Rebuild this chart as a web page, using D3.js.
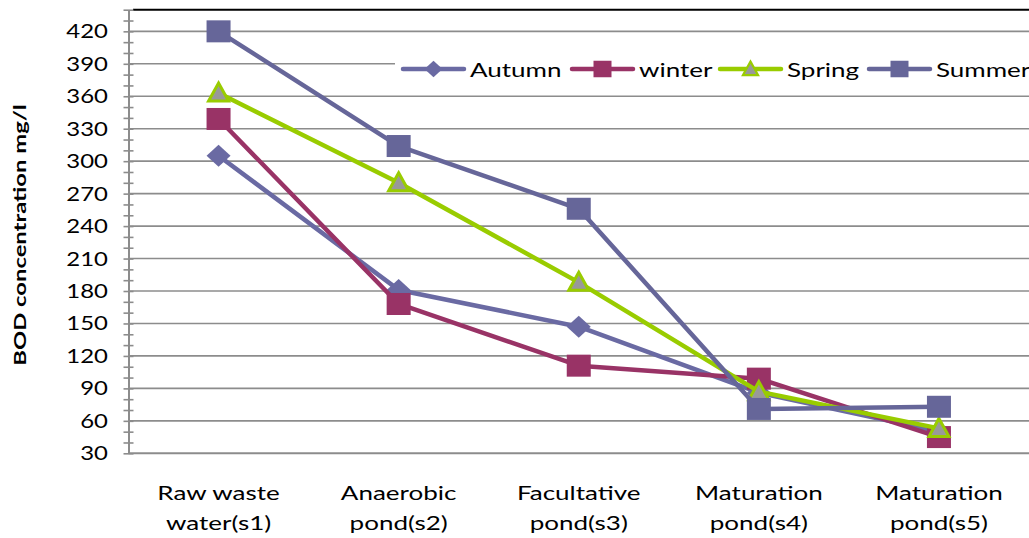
<!DOCTYPE html>
<html>
<head>
<meta charset="utf-8">
<script src="https://cdn.jsdelivr.net/npm/d3@7"></script>
<style>
  html, body { margin: 0; padding: 0; background: #fff; }
  svg { display: block; }
  text { font-family: Lato, "Open Sans", sans-serif; fill: #000; }
</style>
</head>
<body>
<svg id="chart" width="1029" height="538"></svg>
<script>
// Sampling stations along the pond system
const categories = [
  "Raw waste|water(s1)",
  "Anaerobic|pond(s2)",
  "Facultative|pond(s3)",
  "Maturation|pond(s4)",
  "Maturation|pond(s5)"
];

// BOD concentration (mg/l) per season
const autumn = [305, 181, 147, 86, 50];
const winter = [339, 168, 111, 99, 45];
const spring = [363, 280, 188, 87, 53];
const summer = [420, 314, 256, 71, 73];

const seriesNames = ["Autumn", "winter", "Spring", "Summer"];
const yTicks = [30, 60, 90, 120, 150, 180, 210, 240, 270, 300, 330, 360, 390, 420];
const yMinorStep = 10;
const yDomain = [30, 440];

const series = [
  { name: seriesNames[0], values: autumn, stroke: "#6a6aa3", fill: "#6a6aa3", shape: "diamond" },
  { name: seriesNames[1], values: winter, stroke: "#993366", fill: "#993366", shape: "square" },
  { name: seriesNames[2], values: spring, stroke: "#99cc00", fill: "#999999", shape: "triangle" },
  { name: seriesNames[3], values: summer, stroke: "#666699", fill: "#666699", shape: "square" }
];

const W = 1029, H = 538;
const plot = { left: 128.5, right: 1029, top: 9.7, bottom: 453.3 };
const textStretch = 1.37;
const tickStretch = 1.26;

const svg = d3.select("#chart");

const x = d3.scalePoint().domain(categories).range([plot.left, plot.right]).padding(0.5);
const y = d3.scaleLinear().domain(yDomain).range([plot.bottom, plot.top]);

// Horizontal gridlines at each major tick
svg.append("g").selectAll("line")
  .data(yTicks.filter(d => d > yDomain[0]))
  .join("line")
  .attr("x1", plot.left).attr("x2", plot.right)
  .attr("y1", d => y(d)).attr("y2", d => y(d))
  .attr("stroke", "#8c8c8c").attr("stroke-width", 1.6);

// Top border of the plot area
svg.append("line")
  .attr("x1", 133).attr("x2", W)
  .attr("y1", plot.top).attr("y2", plot.top)
  .attr("stroke", "#000").attr("stroke-width", 2);

// Y axis with major and minor tick marks
const yAxis = d3.axisLeft(y)
  .tickValues(d3.range(yDomain[0], yDomain[1] + 1, yMinorStep))
  .tickSize(0)
  .tickFormat("");
const gy = svg.append("g").attr("transform", `translate(${plot.left},0)`).call(yAxis);
gy.select(".domain").attr("stroke", "#8c8c8c").attr("stroke-width", 2);
gy.selectAll(".tick line").remove();
gy.selectAll(".tick").append("line")
  .attr("x1", -5).attr("x2", 5)
  .attr("stroke", "#8c8c8c").attr("stroke-width", 1.6);

// Y tick labels
svg.append("g").selectAll("text")
  .data(yTicks)
  .join("text")
  .attr("transform", d => `translate(108,${y(d) + 7}) scale(${tickStretch},1)`)
  .attr("text-anchor", "end")
  .attr("font-size", 19)
  .text(d => d);

// X axis line
const xAxis = d3.axisBottom(x).tickSize(0).tickFormat("");
const gx = svg.append("g").attr("transform", `translate(0,${plot.bottom})`).call(xAxis);
gx.select(".domain").attr("stroke", "#8c8c8c").attr("stroke-width", 2)
  .attr("d", `M${plot.left},0H${plot.right}`);

// X category labels (two lines each)
const xl = svg.append("g").selectAll("g")
  .data(categories)
  .join("g");
xl.each(function (d) {
  const lines = d.split("|");
  const g = d3.select(this);
  lines.forEach((ln, i) => {
    g.append("text")
      .attr("transform", `translate(${x(d)},${500 + i * 29.5}) scale(${textStretch},1)`)
      .attr("text-anchor", "middle")
      .attr("font-size", 19)
      .text(ln);
  });
});

// Y axis title
svg.append("text")
  .attr("transform", `translate(26,235) rotate(-90) scale(1.36,1)`)
  .attr("text-anchor", "middle")
  .attr("font-size", 17.5)
  .attr("font-weight", "bold")
  .text("BOD concentration mg/l");

// Marker drawing
function drawMarker(sel, shape, fill, stroke) {
  if (shape === "square") {
    sel.append("rect").attr("x", -12).attr("y", -11).attr("width", 24).attr("height", 22)
      .attr("fill", fill);
  } else if (shape === "diamond") {
    sel.append("path").attr("d", "M0,-11L12,0L0,11L-12,0Z").attr("fill", fill);
  } else if (shape === "triangle") {
    sel.append("path").attr("d", "M0,-10L10,8L-10,8Z")
      .attr("fill", fill).attr("stroke", stroke).attr("stroke-width", 3)
      .attr("stroke-linejoin", "miter");
  }
}

const line = d3.line().x((d, i) => x(categories[i])).y(d => y(d));

// Series lines and markers
series.forEach(s => {
  const g = svg.append("g");
  g.append("path")
    .datum(s.values)
    .attr("d", line)
    .attr("fill", "none")
    .attr("stroke", s.stroke)
    .attr("stroke-width", 4.5)
    .attr("stroke-linejoin", "round");
  g.selectAll("g.m")
    .data(s.values)
    .join("g")
    .attr("class", "m")
    .attr("transform", (d, i) => `translate(${x(categories[i])},${y(d)})`)
    .each(function () { drawMarker(d3.select(this), s.shape, s.fill, s.stroke); });
});

// Legend
const legend = svg.append("g");
legend.append("rect").attr("x", 395).attr("y", 52).attr("width", W - 395).attr("height", 34)
  .attr("fill", "#fff");
const legendX = [403, 572, 720, 869];
series.forEach((s, i) => {
  const g = legend.append("g").attr("transform", `translate(${legendX[i]},69)`);
  g.append("line").attr("x1", 0).attr("x2", 61).attr("y1", 0).attr("y2", 0)
    .attr("stroke", s.stroke).attr("stroke-width", 4.5).attr("stroke-linecap", "round");
  const m = g.append("g").attr("transform", "translate(30.5,0) scale(0.75)");
  drawMarker(m, s.shape, s.fill, s.stroke);
  g.append("text")
    .attr("transform", `translate(67,7.5) scale(${textStretch},1)`)
    .attr("font-size", 19)
    .text(s.name);
});
</script>
</body>
</html>
